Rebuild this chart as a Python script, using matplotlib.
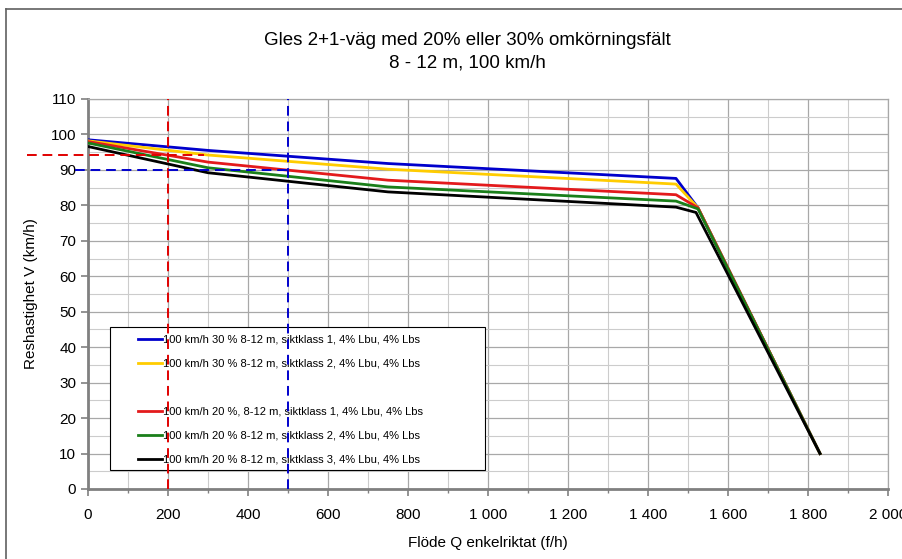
import matplotlib
matplotlib.use("Agg")
import matplotlib.pyplot as plt
from matplotlib.lines import Line2D
from matplotlib.patches import Rectangle

plt.rcParams['font.family'] = ['Liberation Sans', 'DejaVu Sans']

# flow (f/h) break points of each curve
q_main = [0, 300, 750, 1470, 1525, 1830]
q_black = [0, 300, 750, 1470, 1520, 1830]

# travel speed V (km/h)
v_30_s1 = [98.5, 95.5, 91.8, 87.6, 79.3, 10]
v_30_s2 = [98.2, 94.2, 90.2, 86.0, 79.3, 10]
v_20_s1 = [98.0, 92.2, 87.1, 83.0, 79.3, 10]
v_20_s2 = [97.6, 90.6, 85.2, 81.2, 79.0, 10]
v_20_s3 = [96.6, 89.2, 83.8, 79.5, 78.0, 10]

labels = [
    "100 km/h 30 % 8-12 m, siktklass 1, 4% Lbu, 4% Lbs",
    "100 km/h 30 % 8-12 m, siktklass 2, 4% Lbu, 4% Lbs",
    "100 km/h 20 %, 8-12 m, siktklass 1, 4% Lbu, 4% Lbs",
    "100 km/h 20 % 8-12 m, siktklass 2, 4% Lbu, 4% Lbs",
    "100 km/h 20 % 8-12 m, siktklass 3, 4% Lbu, 4% Lbs",
]
colors = ["#0000cc", "#ffcc00", "#e31a1c", "#1a7f1a", "#000000"]

# reading guides (flow, speed, left and right end of the horizontal dash)
red_q, red_v, red_x0, red_x1 = 200, 94.2, -152, 290
blue_q, blue_v, blue_x0, blue_x1 = 500, 90.0, -32, 500

xticks = [0, 200, 400, 600, 800, 1000, 1200, 1400, 1600, 1800, 2000]
xticklabels = ["0", "200", "400", "600", "800", "1 000", "1 200", "1 400",
               "1 600", "1 800", "2 000"]
yticks = list(range(0, 111, 10))

fig = plt.figure(figsize=(9.03, 5.59), dpi=100)
ax = fig.add_axes([88/903, 70/559, 800/903, 390/559])

ax.set_xlim(0, 2000)
ax.set_ylim(0, 110)
ax.set_xticks(xticks)
ax.set_xticklabels(xticklabels)
ax.set_xticks(range(0, 2001, 100), minor=True)
ax.set_yticks(yticks)
ax.set_yticks(range(0, 111, 5), minor=True)
ax.grid(which="major", color="#a8a8a8", lw=0.9)
ax.grid(which="minor", color="#cccccc", lw=0.8)
ax.set_axisbelow(True)
ax.tick_params(which="both", direction="out", colors="#808080",
               labelcolor="black", labelsize=11)
ax.tick_params(which="major", length=5, width=1.2)
ax.tick_params(which="minor", length=0)
ax.tick_params(axis="x", which="minor", length=3, width=1)
ax.tick_params(axis="x", which="major", pad=9)
for s in ["left", "bottom"]:
    ax.spines[s].set_color("#808080")
    ax.spines[s].set_linewidth(2)
for s in ["top", "right"]:
    ax.spines[s].set_color("#a8a8a8")
    ax.spines[s].set_linewidth(0.9)

series = [(q_main, v_30_s1), (q_main, v_30_s2), (q_main, v_20_s1),
          (q_main, v_20_s2), (q_black, v_20_s3)]
handles = []
for (q, v), c, lab in zip(series, colors, labels):
    h, = ax.plot(q, v, color=c, lw=2, label=lab, zorder=3)
    handles.append(h)

# legend box
ax.add_patch(Rectangle((22/800, 19/390), 375/800, 143/390, transform=ax.transAxes,
                       facecolor="white", edgecolor="black", lw=0.8, zorder=4.5))
blank = Line2D([], [], color="none")
leg_handles = handles[:2] + [blank] + handles[2:]
leg_labels = labels[:2] + [" "] + labels[2:]
leg = ax.legend(leg_handles, leg_labels, loc="upper left",
                bbox_to_anchor=(50/800, 154/390), frameon=False,
                fontsize=8, handlelength=2.15, handletextpad=0.1,
                labelspacing=1.25, borderpad=0, borderaxespad=0)
leg.set_zorder(5)

dash = (0, (5, 3))
ax.plot([red_q, red_q], [0, 110], color="#e00000", lw=1.4, ls=dash, zorder=6)
ax.plot([blue_q, blue_q], [0, 110], color="#0000cc", lw=1.4, ls=dash, zorder=6)
ax.plot([red_x0, red_x1], [red_v, red_v], color="#e00000", lw=1.4, ls=dash,
        zorder=6, clip_on=False)
ax.plot([blue_x0, blue_x1], [blue_v, blue_v], color="#0000cc", lw=1.4, ls=dash,
        zorder=6, clip_on=False)

ax.set_xlabel("Flöde Q enkelriktat (f/h)", fontsize=11, labelpad=10)
ax.set_ylabel("Reshastighet V (km/h)", fontsize=11, labelpad=9)

fig.text(467/903, 1 - 52/559,
         "Gles 2+1-väg med 20% eller 30% omkörningsfält\n8 - 12 m, 100 km/h",
         ha="center", va="center", fontsize=13.5, linespacing=1.4)

# outer chart frame (cropped at right and bottom)
fig.add_artist(Line2D([5.5/903, 5.5/903], [0, 1 - 9/559], color="#606060",
                      lw=1.2, transform=fig.transFigure))
fig.add_artist(Line2D([5.5/903, 1], [1 - 9/559, 1 - 9/559], color="#606060",
                      lw=1.2, transform=fig.transFigure))

fig.savefig("out.png", dpi=100)
